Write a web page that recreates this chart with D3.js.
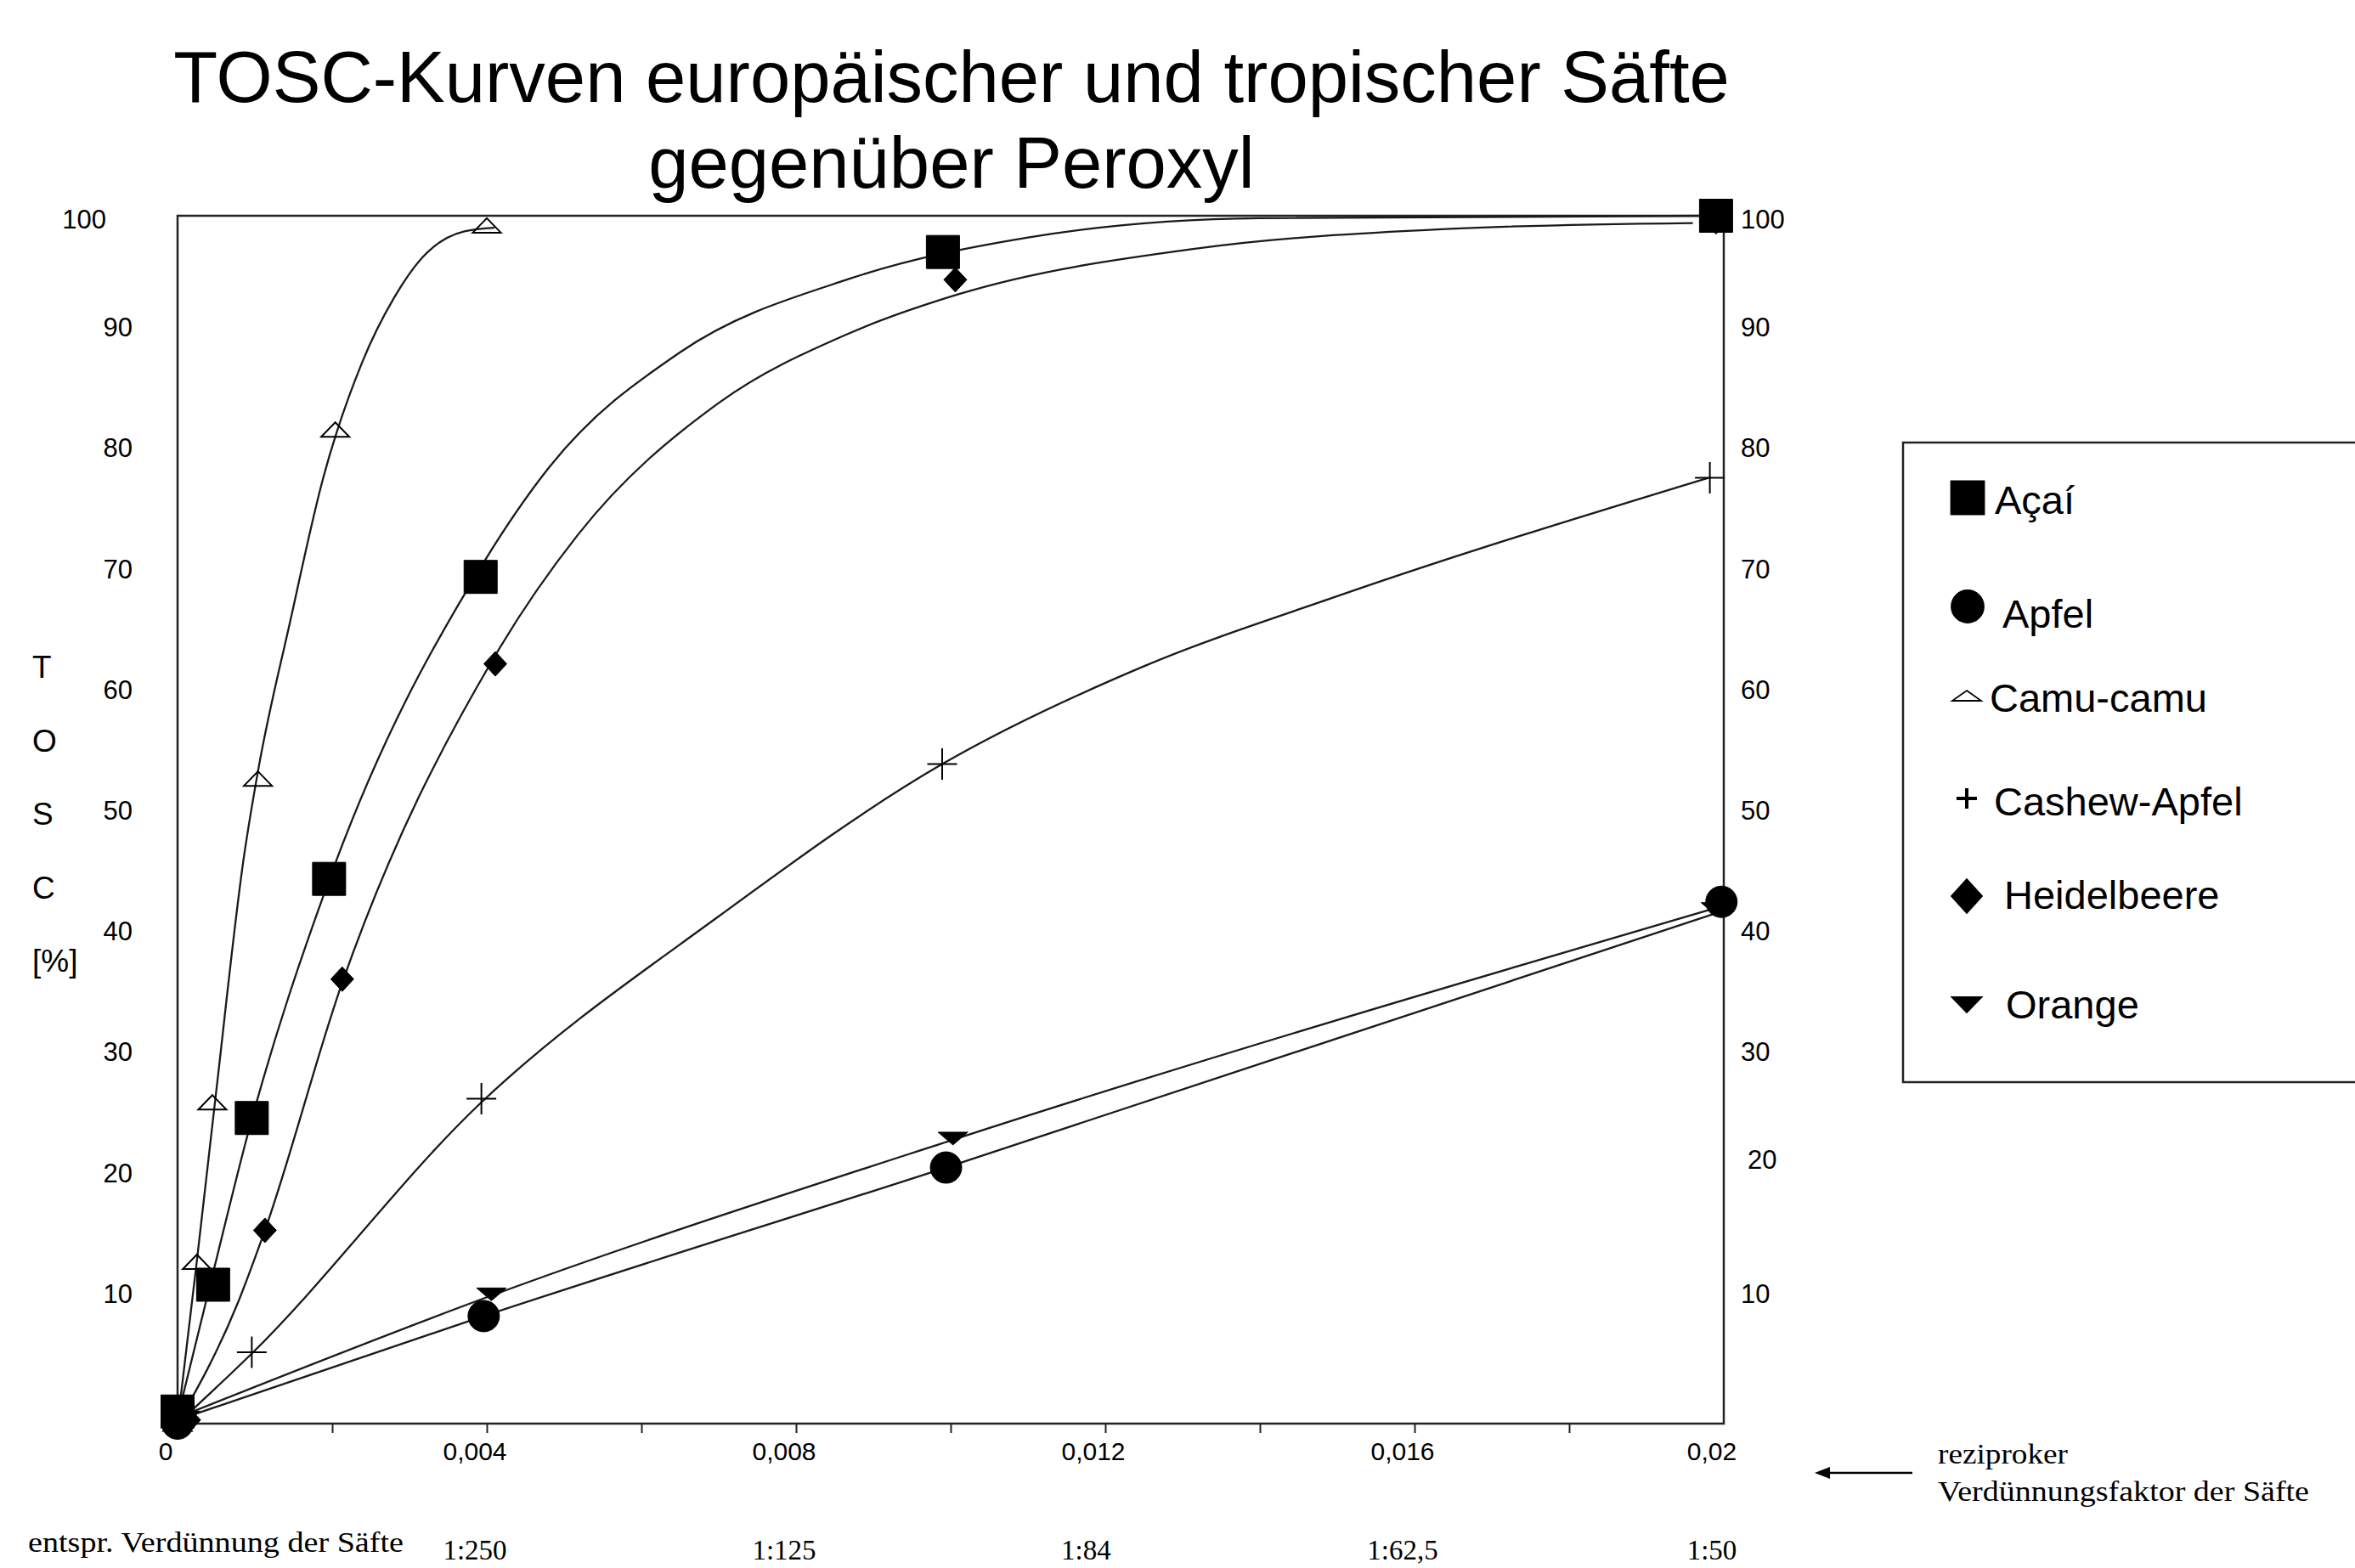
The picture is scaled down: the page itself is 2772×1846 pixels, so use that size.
<!DOCTYPE html>
<html>
<head>
<meta charset="utf-8">
<script src="https://cdn.jsdelivr.net/npm/d3@7"></script>
<style>
  html, body { margin: 0; padding: 0; background: #fff; }
  svg { display: block; }
  .sans { font-family: "Liberation Sans", Arial, Helvetica, sans-serif; }
  .serif { font-family: "Liberation Serif", "Times New Roman", Times, serif; }
</style>
</head>
<body>
<svg id="chart" width="2772" height="1846"></svg>
<script>
// ---------------- DATA ----------------
const titleLines = ["TOSC-Kurven europäischer und tropischer Säfte", "gegenüber Peroxyl"];
const seriesNames = ["Açaí", "Apfel", "Camu-camu", "Cashew-Apfel", "Heidelbeere", "Orange"];

// measured points (markers)
const acaiX   = [0, 0.00046, 0.00096, 0.00196, 0.00392, 0.0099, 0.0199];
const acaiY   = [1.0, 11.5, 25.3, 45.1, 70.1, 97.0, 100];
const apfelX  = [0, 0.00396, 0.00994, 0.01997];
const apfelY  = [0, 8.9, 21.2, 43.2];
const camuX   = [0, 0.00025, 0.00045, 0.00104, 0.00204, 0.0040];
const camuY   = [0, 13.4, 26.6, 53.4, 82.3, 99.2];
const cashewX = [0, 0.00096, 0.00393, 0.00989, 0.01982];
const cashewY = [0, 5.9, 26.9, 54.6, 78.3];
const heidelX = [0.00015, 0.00113, 0.00213, 0.00411, 0.01006, 0.0199];
const heidelY = [0.3, 16.0, 36.8, 62.9, 94.7, 99.5];
const orangeX = [0.0001, 0.00406, 0.01003, 0.0199];
const orangeY = [0.5, 10.7, 23.6, 42.6];

// fitted curves
const acaiFitX   = [0, 0.00046, 0.00091, 0.00196, 0.00395, 0.00481, 0.0065, 0.0087, 0.011, 0.014, 0.0198];
const acaiFitY   = [0.5, 12.5, 24, 45, 71.2, 79.2, 88.7, 94.8, 98.2, 99.8, 100];
const apfelFitX  = [0, 0.00396, 0.00994, 0.01997];
const apfelFitY  = [0.3, 8.9, 21.2, 42.4];
const camuFitX   = [0, 0.00025, 0.0005, 0.00086, 0.00104, 0.00146, 0.00188, 0.00239, 0.0028, 0.00316, 0.00371, 0.0041];
const camuFitY   = [0, 13.5, 27.5, 47, 54, 66.5, 78.2, 87.9, 93.2, 96.5, 98.7, 99.0];
const cashewFitX = [0, 0.00096, 0.00393, 0.007, 0.00989, 0.0125, 0.015, 0.0198];
const cashewFitY = [0, 5.8, 26.6, 42.0, 54.6, 62.7, 68.5, 78.3];
const heidelFitX = [0, 0.00078, 0.00113, 0.00213, 0.0041, 0.00518, 0.007, 0.0087, 0.0101, 0.0132, 0.0164, 0.0196];
const heidelFitY = [0, 10, 16, 36.5, 63.5, 73.6, 84.5, 90.3, 93.5, 97.3, 98.9, 99.4];
const orangeFitX = [0, 0.00406, 0.01003, 0.0199];
const orangeFitY = [0.5, 10.6, 23.5, 42.7];

// axes
const xMinorTicks = [0.002, 0.004, 0.006, 0.008, 0.010, 0.012, 0.014, 0.016, 0.018];
const xLabelValues = [0, 0.004, 0.008, 0.012, 0.016, 0.02];
const xLabelTexts  = ["0", "0,004", "0,008", "0,012", "0,016", "0,02"];
const yTickValues  = [10, 20, 30, 40, 50, 60, 70, 80, 90, 100];
const dilutionFactors = [250, 125, 84, 62.5, 50];
const dilutionLabels  = ["1:250", "1:125", "1:84", "1:62,5", "1:50"];
const yTitleParts = ["T", "O", "S", "C", "[%]"];
const xNoteLines = ["reziproker", "Verdünnungsfaktor der Säfte"];
const dilutionNote = "entspr. Verdünnung der Säfte";

// ---------------- DRAW ----------------
const svg = d3.select("#chart");
svg.append("rect").attr("width", 2772).attr("height", 1846).attr("fill", "#fff");

const x = d3.scaleLinear().domain([0, 0.02]).range([209, 2029]);
const y = d3.scaleLinear().domain([0, 100]).range([1676, 254]);

const zip = (xs, ys) => xs.map((v, i) => ({x: v, y: ys[i]}));

// title
svg.append("g").selectAll("text").data(titleLines).join("text")
  .attr("class", "sans")
  .attr("x", 1120)
  .attr("y", (d, i) => 120 + i * 101)
  .attr("text-anchor", "middle")
  .attr("font-size", 85)
  .attr("fill", "#000")
  .text(d => d);

// frame
svg.append("rect")
  .attr("x", x(0)).attr("y", y(100))
  .attr("width", x(0.02) - x(0)).attr("height", y(0) - y(100))
  .attr("fill", "none").attr("stroke", "#222").attr("stroke-width", 2.5);

// x axis ticks
const xAxis = d3.axisBottom(x).tickValues(xMinorTicks).tickSize(11).tickFormat("");
const gx = svg.append("g").attr("transform", `translate(0,${y(0)})`).call(xAxis);
gx.select(".domain").remove();
gx.selectAll("line").attr("stroke", "#222").attr("stroke-width", 2);

// x labels
svg.append("g").selectAll("text").data(xLabelValues).join("text")
  .attr("class", "sans")
  .attr("x", d => x(d) - 14)
  .attr("y", 1719)
  .attr("text-anchor", "middle")
  .attr("font-size", 30)
  .text((d, i) => xLabelTexts[i]);

// y labels left & right
svg.append("g").selectAll("text").data(yTickValues).join("text")
  .attr("class", "sans")
  .attr("x", d => d === 100 ? 125 : 156)
  .attr("y", d => d === 100 ? y(d) + 15 : y(d))
  .attr("text-anchor", "end")
  .attr("font-size", 31)
  .text(d => d);
svg.append("g").selectAll("text").data(yTickValues).join("text")
  .attr("class", "sans")
  .attr("x", d => d === 20 ? 2057 : 2049)
  .attr("y", d => d === 100 ? y(d) + 15 : (d === 20 ? y(d) - 16 : y(d)))
  .attr("text-anchor", "start")
  .attr("font-size", 31)
  .text(d => d);

// y title (stacked letters)
svg.append("g").selectAll("text").data(yTitleParts).join("text")
  .attr("class", "sans")
  .attr("x", 38)
  .attr("y", (d, i) => 798 + i * 86.5)
  .attr("font-size", 37)
  .text(d => d);

// dilution row
svg.append("text").attr("class", "serif")
  .attr("x", 33).attr("y", 1827)
  .attr("font-size", 34)
  .attr("textLength", 442).attr("lengthAdjust", "spacingAndGlyphs")
  .text(dilutionNote);
svg.append("g").selectAll("text").data(dilutionFactors).join("text")
  .attr("class", "serif")
  .attr("x", d => x(1 / d) - 14)
  .attr("y", 1836)
  .attr("text-anchor", "middle")
  .attr("font-size", 33)
  .text((d, i) => dilutionLabels[i]);

// arrow + note
svg.append("line").attr("x1", 2251).attr("x2", 2150).attr("y1", 1734).attr("y2", 1734)
  .attr("stroke", "#000").attr("stroke-width", 2.5);
svg.append("path").attr("d", "M2136,1734 L2154,1727 L2154,1741 Z").attr("fill", "#000");
svg.append("text").attr("class", "serif").attr("x", 2281).attr("y", 1723)
  .attr("font-size", 34).attr("textLength", 153).attr("lengthAdjust", "spacingAndGlyphs")
  .text(xNoteLines[0]);
svg.append("text").attr("class", "serif").attr("x", 2281).attr("y", 1767)
  .attr("font-size", 34).attr("textLength", 437).attr("lengthAdjust", "spacingAndGlyphs")
  .text(xNoteLines[1]);

// curves
const line = d3.line().x(d => x(d.x)).y(d => y(d.y)).curve(d3.curveMonotoneX);
const fits = [
  zip(camuFitX, camuFitY), zip(cashewFitX, cashewFitY), zip(orangeFitX, orangeFitY),
  zip(apfelFitX, apfelFitY), zip(heidelFitX, heidelFitY), zip(acaiFitX, acaiFitY)
];
svg.append("g").selectAll("path").data(fits).join("path")
  .attr("d", line)
  .attr("fill", "none")
  .attr("stroke", "#1a1a1a")
  .attr("stroke-width", 2.3);

// marker shapes
const shapes = {
  square:  "M-19.5,-19.5 H19.5 V19.5 H-19.5 Z",
  circle:  "M-18.5,0 A18.5,18.5 0 1,0 18.5,0 A18.5,18.5 0 1,0 -18.5,0 Z",
  triUp:   "M0,-8.5 L16.5,8.5 L-16.5,8.5 Z",
  plus:    "M-17.5,0 H17.5 M0,-18.5 V18.5",
  diamond: "M0,-14.5 L13.5,0 L0,14.5 L-13.5,0 Z",
  triDown: "M-17.5,-7.5 L17.5,-7.5 L0,7.5 Z"
};
function drawMarkers(pts, shape, filled) {
  svg.append("g").selectAll("path").data(pts).join("path")
    .attr("transform", d => `translate(${x(d.x)},${y(d.y)})`)
    .attr("d", shapes[shape])
    .attr("fill", filled ? "#000" : "none")
    .attr("stroke", "#000")
    .attr("stroke-width", filled ? 1 : 2);
}
drawMarkers(zip(camuX, camuY), "triUp", false);
drawMarkers(zip(cashewX, cashewY), "plus", false);
drawMarkers(zip(orangeX, orangeY), "triDown", true);
drawMarkers(zip(apfelX, apfelY), "circle", true);
drawMarkers(zip(heidelX, heidelY), "diamond", true);
drawMarkers(zip(acaiX, acaiY), "square", true);

// legend
const lg = svg.append("g");
lg.append("rect").attr("x", 2240).attr("y", 521).attr("width", 700).attr("height", 753)
  .attr("fill", "#fff").attr("stroke", "#222").attr("stroke-width", 2.5);
const legendShapes = [
  {shape: "M-19.5,-19.5 H19.5 V19.5 H-19.5 Z", fill: true, cx: 2316, cy: 586, tx: 2348, ty: 605},
  {shape: "M-19,0 A19,19 0 1,0 19,0 A19,19 0 1,0 -19,0 Z", fill: true, cx: 2316, cy: 714, tx: 2357, ty: 739},
  {shape: "M0,-6 L17,6 L-17,6 Z", fill: false, cx: 2315, cy: 819, tx: 2342, ty: 838},
  {shape: "M-12,0 H12 M0,-12 V12", fill: false, cx: 2315, cy: 940, tx: 2347, ty: 960, sw: 4},
  {shape: "M0,-20 L18,0 L0,20 L-18,0 Z", fill: true, cx: 2315, cy: 1055, tx: 2359, ty: 1070},
  {shape: "M-17.5,-9 L17.5,-9 L0,9 Z", fill: true, cx: 2315, cy: 1183, tx: 2361, ty: 1199}
];
seriesNames.forEach((name, i) => {
  const s = legendShapes[i];
  lg.append("path").attr("transform", `translate(${s.cx},${s.cy})`).attr("d", s.shape)
    .attr("fill", s.fill ? "#000" : "none").attr("stroke", "#000").attr("stroke-width", s.sw || 1.8);
  lg.append("text").attr("class", "sans").attr("x", s.tx).attr("y", s.ty)
    .attr("font-size", 47).text(name);
});
</script>
</body>
</html>
